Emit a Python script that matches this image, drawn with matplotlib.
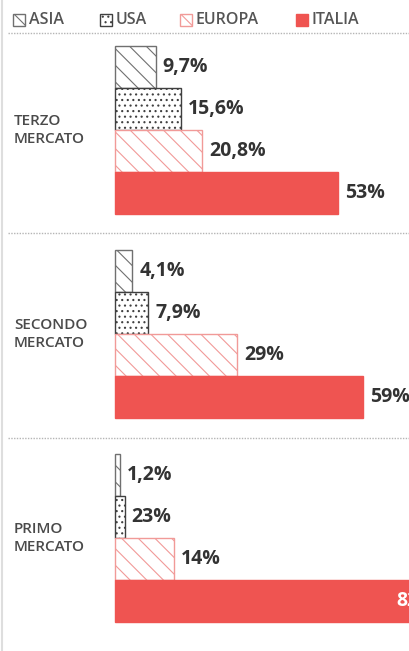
#!/usr/bin/env python3

import matplotlib
matplotlib.use('Agg')
import matplotlib.pyplot as plt
from matplotlib.patches import Rectangle

plt.rcParams['font.family'] = ['Open Sans', 'DejaVu Sans']
plt.rcParams['hatch.linewidth'] = 0.8

groups = ['TERZO\nMERCATO', 'SECONDO\nMERCATO', 'PRIMO\nMERCATO']
series = ['ASIA', 'USA', 'EUROPA', 'ITALIA']
asia = [9.7, 4.1, 1.2]
usa = [15.6, 7.9, 2.3]
europa = [20.8, 29, 14]
italia = [53, 59, 82]
asia_lbl = ['9,7%', '4,1%', '1,2%']
usa_lbl = ['15,6%', '7,9%', '23%']
europa_lbl = ['20,8%', '29%', '14%']
italia_lbl = ['53%', '59%', '82%']

values = [asia, usa, europa, italia]
labels = [asia_lbl, usa_lbl, europa_lbl, italia_lbl]

red = '#ef5451'
styles = [
    dict(facecolor='white', edgecolor='#707070', hatch='\\\\'),
    dict(facecolor='white', edgecolor='#404040', hatch='...'),
    dict(facecolor='white', edgecolor='#f19a98', hatch='\\\\'),
    dict(facecolor=red, edgecolor=red),
]

# layout in pixels
W, H = 410, 651
x0 = 115          # pixel where the bars start
k = 4.2           # pixels per percent
bar_h = 42
top0 = 46
stride = 204


def px(x):
    return (x - x0) / k


fig = plt.figure(figsize=(W / 100, H / 100), dpi=100)
ax = fig.add_axes([0, 0, 1, 1])
ax.set_xlim(px(0), px(W))
ax.set_ylim(H, 0)
ax.axis('off')

for g in range(len(groups)):
    top = top0 + g * stride
    for i in range(len(series)):
        yc = top + bar_h / 2 + i * bar_h
        v = values[i][g]
        ax.barh(yc, v, height=bar_h, left=0, linewidth=1, **styles[i])
        if i == 3 and g == 2:
            ax.annotate(labels[i][g], xy=(v, yc), xytext=(-63, 0), textcoords='offset pixels',
                        ha='left', va='center', fontsize=14, fontweight='bold', color='white',
                        annotation_clip=False)
        else:
            ax.annotate(labels[i][g], xy=(v, yc), xytext=(7, 0), textcoords='offset pixels',
                        ha='left', va='center', fontsize=14, fontweight='bold', color='#333333',
                        annotation_clip=False)
    ax.text(px(14), top + 2 * bar_h, groups[g], ha='left', va='center', fontsize=11,
            fontweight='semibold', color='#4a4a4a', linespacing=1.3)

# separators
ax.hlines([33, 233, 438], px(8), px(W), colors='#b5b5b5', linestyles=(0, (1, 1)), lw=1)
ax.axvline(px(1.5), color='#dedede', lw=1.5)

# legend
leg_x = [13, 100, 180, 296]
for i, name in enumerate(series):
    st = dict(styles[i])
    st['linewidth'] = 1
    ax.add_patch(Rectangle((px(leg_x[i]), 14), 12 / k, 12, **st))
    ax.text(px(leg_x[i] + 16), 20.5, name, ha='left', va='center', fontsize=11.5,
            color='#555555', fontweight='semibold')

fig.savefig('out.png', dpi=100)
